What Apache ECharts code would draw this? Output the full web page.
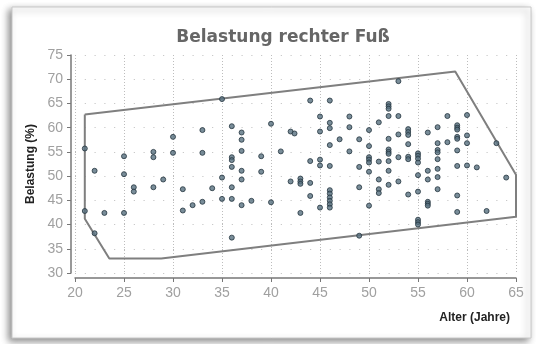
<!DOCTYPE html>
<html><head><meta charset="utf-8">
<script src="https://cdn.jsdelivr.net/npm/echarts@6/dist/echarts.min.js"></script>
<style>html,body{margin:0;padding:0;background:#fff}#c{width:543px;height:344px}</style>
</head><body><div id="c"></div>
<script>
// Age groups (years) and the measured loads (%) for each age
const ages = [21,22,23,25,26,28,29,30,31,32,33,34,35,36,37,38,39,40,41,42,42.4,43,44,45,46,47,48,49,50,51,52,53,54,55,56,57,58,59,60,61,62,63,64];
const loads = [
  [55.7,42.8],[51.1,38.2],[42.4],[54.1,50.4,42.4],[47.7,46.8],[55.0,53.9,47.7],[49.3],[58.1,54.8],[47.3,42.9],[44.0],
  [59.5,54.8,44.7],[47.5],[65.9,49.7,45.3],[60.3,53.9,53.3,51.9,47.7,45.3,37.3],[59.0,57.5,55.2,51.1,49.3,44.0],[44.9],
  [54.1,50.9],[60.8,44.6],[55.1],[59.2,48.9],[58.8],[49.5,48.9,48.4,42.4],[65.6,53.1,48.6,45.9],[62.3,59.2,53.4,52.2,43.5],
  [65.6,61.0,59.9,56.4,52.1,47.1,46.4,45.6,44.9,44.2,43.5],[57.6],[62.3,60.1,55.1],[57.6,51.9,47.7,37.7],
  [59.5,56.2,53.9,53.4,52.8,50.9,43.9],[61.1,53.0,49.3,47.3,46.5],[64.9,64.4,63.9,62.4,57.7,55.5,55.0,54.6,53.1,51.1,48.2],
  [69.6,62.4,58.6,53.9,48.9],[59.7,59.1,58.5,56.6,54.0,53.5,46.2],[54.7,54.2,53.6,52.8,50.2,46.8,41.0,40.5,40.0],
  [59.0,51.1,49.3,44.7,44.3,43.9],[60.1,56.8,55.4,54.9,53.5,51.5,49.8,47.3],[62.4,57.0],
  [60.5,60.0,59.6,58.1,57.7,55.3,52.1,46.0,42.6],[62.6,58.4,56.8,52.2],[51.8],[42.8],[56.8],[49.7]
];
// Enclosing polygon
const hullAge  = [21, 21, 23.5, 28.8, 65, 65, 58.8, 21];
const hullLoad = [62.7, 41.2, 33.0, 33.0, 41.6, 50.3, 71.6, 62.7];
const xTicks = [20,65,5];
const yTicks = [30,75,5];
const titleText = 'Belastung rechter Fuß';
const xName = 'Alter (Jahre)';
const yName = 'Belastung (%)';

const pts = [];
ages.forEach((a,i)=>loads[i].forEach(v=>pts.push([a,v])));
const hull = hullAge.map((a,i)=>[a,hullLoad[i]]);

const chart = echarts.init(document.getElementById('c'));
const narrow = "'Liberation Sans Narrow','Arial Narrow','Liberation Sans',sans-serif";
chart.setOption({
  animation:false,
  backgroundColor:'#fff',
  graphic:[{type:'rect',z:-10,shape:{x:12,y:7,width:519,height:331},
    style:{fill:'#fff',stroke:'#c8c8c8',lineWidth:1,shadowBlur:7,shadowOffsetX:-3,shadowOffsetY:3,shadowColor:'rgba(0,0,0,0.45)'}}],
  title:{text:titleText,left:278,top:24,textAlign:'center',
    textStyle:{fontFamily:'DejaVu Sans',fontWeight:'bold',fontSize:17,color:'#666'}},
  grid:{left:75,right:27,top:55,bottom:71},
  xAxis:{type:'value',min:xTicks[0],max:xTicks[1],interval:xTicks[2],offset:5,
    name:xName,nameLocation:'end',nameGap:-6,
    nameTextStyle:{fontFamily:narrow,fontWeight:'bold',fontSize:12,color:'#222',align:'right',verticalAlign:'top',padding:[34,0,0,0]},
    axisLine:{lineStyle:{color:'#777',width:1.5}},
    axisTick:{length:4,lineStyle:{color:'#777'}},
    axisLabel:{color:'#a0a0a0',fontFamily:narrow,fontSize:14,margin:8},
    splitLine:{show:true,lineStyle:{color:'#bdbdbd',type:[1,2],width:1}}},
  yAxis:{type:'value',min:yTicks[0],max:yTicks[1],interval:yTicks[2],offset:4,
    name:yName,nameLocation:'middle',nameGap:31,
    nameTextStyle:{fontFamily:narrow,fontWeight:'bold',fontSize:12,color:'#222'},
    axisLine:{show:true,lineStyle:{color:'#777',width:1.5}},
    axisTick:{show:true,length:4,lineStyle:{color:'#777'}},
    axisLabel:{color:'#a0a0a0',fontFamily:narrow,fontSize:14,margin:8},
    splitLine:{show:true,lineStyle:{color:'#bdbdbd',type:[1,8.8],width:1}}},
  series:[
    {type:'line',data:hull,showSymbol:false,silent:true,z:1,
      lineStyle:{color:'#7f7f7f',width:2}},
    {type:'scatter',data:pts,symbolSize:5,z:3,
      itemStyle:{color:'#587080',borderColor:'#24343f',borderWidth:1}}
  ]
});
</script></body></html>
